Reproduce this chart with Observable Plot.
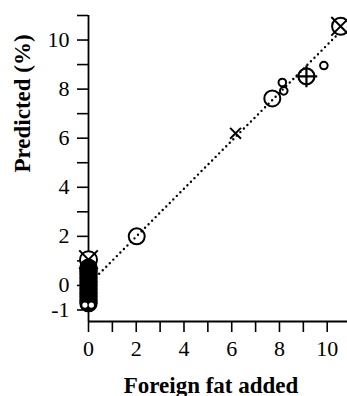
<!DOCTYPE html>
<html><head><meta charset="utf-8">
<script src="https://cdn.jsdelivr.net/npm/d3@7"></script>
<script src="https://cdn.jsdelivr.net/npm/@observablehq/plot@0.6"></script>
<style>
body{margin:0;background:#fff}
svg{display:block}
#chart svg, #chart svg text{font-family:"Liberation Serif","DejaVu Serif",serif !important}
</style>
</head><body><div id="chart"></div>
<script>
// ---- data ----
const xTicks = [0, 1, 2, 3, 4, 5, 6, 7, 8, 9, 10];
const xTickLabels = ["0", "", "2", "", "4", "", "6", "", "8", "", "10"];
const yTicks = [-1, 0, 1, 2, 3, 4, 5, 6, 7, 8, 9, 10, 11];
const yTickLabels = ["-1", "0", "", "2", "", "4", "", "6", "", "8", "", "10", ""];

// dense cluster of samples with no foreign fat added
const zeroX = [0, 0, 0, 0, 0, 0, 0, 0, 0, 0, 0];
const zeroY = [0.72, 0.6, 0.45, 0.3, 0.15, 0.0, -0.15, -0.3, -0.45, -0.6, -0.72];
const zeroHoleX = [-0.15, 0.12];
const zeroHoleY = [-0.8, -0.8];

const bigCircleX = [2.02, 7.7];
const bigCircleY = [2.0, 7.62];
const circleTimesX = [0, 10.56];
const circleTimesY = [1.05, 10.56];
const circlePlusX = [9.13];
const circlePlusY = [8.52];
const smallCircleX = [8.12, 8.18, 9.86];
const smallCircleY = [8.27, 7.93, 8.96];
const crossX = [6.16];
const crossY = [6.2];

const fitX = [0.3, 10.9];
const fitY = [0.33, 10.68];

const xTitle = "Foreign fat added";
const yTitle = "Predicted (%)";

// ---- build ----
const FONT = "'Liberation Serif', 'DejaVu Serif', serif";
const pts = (xs, ys) => xs.map((x, i) => ({x, y: ys[i]}));
const xLab = new Map(xTicks.map((t, i) => [t, xTickLabels[i]]));
const yLab = new Map(yTicks.map((t, i) => [t, yTickLabels[i]]));

const chart = Plot.plot({
  width: 347,
  height: 396,
  marginLeft: 88,
  marginRight: 0,
  marginTop: 15,
  marginBottom: 75,
  x: {domain: [0, 10.85]},
  y: {domain: [-1.47, 11]},
  style: {fontFamily: FONT, fontSize: "22px", color: "black", background: "white"},
  marks: [
    Plot.axisX({ticks: xTicks, tickFormat: d => xLab.get(d), tickSize: 11, tickPadding: 8, strokeWidth: 1.6, label: null, fontSize: 22, fontFamily: FONT}),
    Plot.axisY({ticks: yTicks, tickFormat: d => yLab.get(d), tickSize: 11, tickPadding: 8, strokeWidth: 1.6, label: null, fontSize: 22, fontFamily: FONT}),
    Plot.ruleX([0], {stroke: "black", strokeWidth: 1.8}),
    Plot.ruleY([-1.47], {stroke: "black", strokeWidth: 1.8}),
    Plot.line(pts(fitX, fitY), {x: "x", y: "y", stroke: "black", strokeWidth: 2.4, strokeDasharray: "0,5", strokeLinecap: "round"}),
    // top circle-times of the zero cluster (drawn before the cluster)
    Plot.dot(pts(circleTimesX, circleTimesY), {x: "x", y: "y", r: 8.5, stroke: "black", fill: "white", strokeWidth: 2}),
    Plot.dot(pts(circleTimesX, circleTimesY), {x: "x", y: "y", r: 8.5, symbol: "times", stroke: "black", strokeWidth: 2}),
    Plot.dot(pts(zeroX, zeroY), {x: "x", y: "y", r: 8.5, fill: "black", stroke: "black"}),
    Plot.dot(pts(zeroHoleX, zeroHoleY), {x: "x", y: "y", r: 2.6, fill: "white", stroke: "none"}),
    Plot.dot(pts(bigCircleX, bigCircleY), {x: "x", y: "y", r: 8, stroke: "black", strokeWidth: 2}),
    Plot.dot(pts(circlePlusX, circlePlusY), {x: "x", y: "y", r: 8, stroke: "black", strokeWidth: 2.2}),
    Plot.dot(pts(circlePlusX, circlePlusY), {x: "x", y: "y", r: 7, symbol: "plus", stroke: "black", strokeWidth: 2.2}),
    Plot.dot(pts(smallCircleX, smallCircleY), {x: "x", y: "y", r: 3.8, stroke: "black", strokeWidth: 2}),
    Plot.dot(pts(crossX, crossY), {x: "x", y: "y", r: 5, symbol: "times", stroke: "black", strokeWidth: 2}),
    Plot.text([xTitle], {frameAnchor: "bottom", text: d => d, dy: 64, dx: -7, fontWeight: "bold", fontSize: 23, fontFamily: FONT, lineAnchor: "middle"}),
    Plot.text([yTitle], {frameAnchor: "left", text: d => d, rotate: -90, dx: -66, dy: 4, fontWeight: "bold", fontSize: 23, fontFamily: FONT, lineAnchor: "middle"})
  ]
});
document.getElementById("chart").appendChild(chart);
</script>
</body></html>
